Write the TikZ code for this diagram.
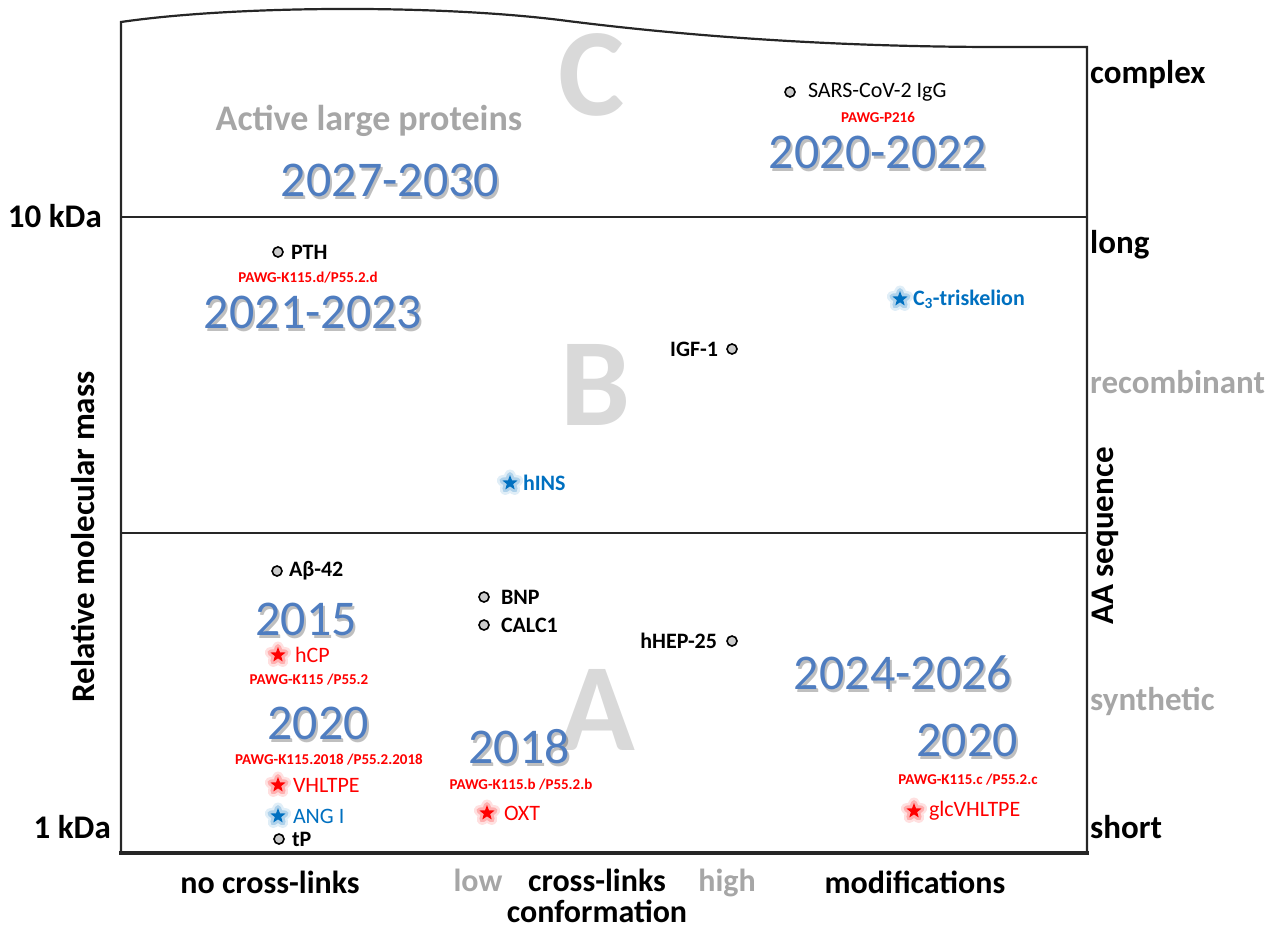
\documentclass[tikz,border=0pt]{standalone}
\usepackage{fontspec}
\setmainfont{Carlito}
\usepackage{tikz}
\usetikzlibrary{
    calc,
    positioning,
    shapes.geometric,
}
\definecolor{yearblue}{RGB}{79,125,192}
\definecolor{tagred}{RGB}{255,0,0}
\definecolor{tagblue}{RGB}{0,112,192}
\definecolor{softgray}{RGB}{166,166,166}
\definecolor{zonegray}{RGB}{217,217,217}
\newcommand{\fs}[1]{\fontsize{#1}{#1}\selectfont}
\newcommand{\yearlabel}[3]{%
    \node[yearshade, xshift=2pt, yshift=-3pt] at (#2) {#3};
    \node[year] (#1) at (#2) {#3};}
\tikzstyle{frame}=[line width=2.2pt, black!85]
\tikzstyle{zone}=[font=\fs{125}\bfseries, text=zonegray, inner sep=0pt]
\tikzstyle{year}=[font=\fs{50}, text=yearblue, inner sep=0pt]
\tikzstyle{yearshade}=[year, text=black, text opacity=0.25]
\tikzstyle{dot}=[circle, draw=black, fill=gray!40, line width=1.6pt, minimum size=10pt, inner sep=0pt]
\tikzstyle{starbase}=[star, star points=5, star point ratio=2.4, minimum size=16pt, inner sep=0pt, line join=round]
\tikzstyle{redstar}=[starbase, fill=red,
    preaction={draw=red, line width=11pt, draw opacity=0.12},
    preaction={draw=red, line width=6pt, draw opacity=0.22}]
\tikzstyle{bluestar}=[starbase, fill=tagblue,
    preaction={draw=tagblue, line width=11pt, draw opacity=0.12},
    preaction={draw=tagblue, line width=6pt, draw opacity=0.22}]
\tikzstyle{item}=[font=\fs{22}\bfseries, inner sep=0pt]
\tikzstyle{tag}=[font=\fs{15}\bfseries, text=tagred, inner sep=0pt]
\tikzstyle{redname}=[font=\fs{22}, text=tagred, inner sep=0pt]
\tikzstyle{bluename}=[font=\fs{22}\bfseries, text=tagblue, inner sep=0pt]
\tikzstyle{axis}=[font=\fs{33}\bfseries, inner sep=0pt]
\tikzstyle{softaxis}=[axis, text=softgray]

\begin{document}
\begin{tikzpicture}[x=1pt, y=-1pt]
    \useasboundingbox (0,0) rectangle (1271,935);
    \draw[frame] (121,853) -- (121,22) .. controls (230,6) and (430,4) .. (560,20)
        .. controls (700,38) and (850,47) .. (1000,47) -- (1087,47) -- (1087,853);
    \draw[frame, line width=3.5pt] (119,853) -- (1089,853);
    \draw[frame] (121,217) -- (1087,217);
    \draw[frame] (121,533) -- (1087,533);

    \node[zone] (zonec) at (592,75) {C};
    \node[zone] (zoneb) at (596,385) {B};
    \node[zone] (zonea) at (597,710) {A};

    \node[font=\fs{36}\bfseries, text=softgray] (active) at (369,121) {Active large proteins};
    \yearlabel{y2027}{390,180}{2027-2030}
    \node[dot] (sars) at (790,92) {};
    \node[item, font=\fs{22}, right=12pt of sars] (sarstext) {SARS-CoV-2 IgG};
    \node[tag] (p216) at (878,117) {PAWG-P216};
    \yearlabel{y2020b}{878,152}{2020-2022}

    \node[dot] (pth) at (278,252) {};
    \node[item, right=7pt of pth] (pthtext) {PTH};
    \node[tag] (k115d) at (308,278) {PAWG-K115.d/P55.2.d};
    \yearlabel{y2021}{313,312}{2021-2023}
    \node[bluestar] (c3) at (900,299) {};
    \node[bluename, right=8pt of c3] (c3text) {C\textsubscript{3}-triskelion};
    \node[dot] (igf) at (732,349) {};
    \node[item, left=8pt of igf] (igftext) {IGF-1};
    \node[bluestar] (hins) at (510,483) {};
    \node[bluename, right=8pt of hins] (hinstext) {hINS};

    \node[dot] (abeta) at (277,571) {};
    \node[item, right=6pt of abeta] (abetatext) {Aβ-42};
    \yearlabel{y2015}{306,619}{2015}
    \node[redstar] (hcp) at (278,655) {};
    \node[redname, right=12pt of hcp] (hcptext) {hCP};
    \node[tag] (k115) at (309,680) {PAWG-K115 /P55.2};
    \yearlabel{y2020a}{318,723}{2020}
    \node[tag] (k2018) at (329,760) {PAWG-K115.2018 /P55.2.2018};
    \node[redstar] (vhltpe) at (278,785) {};
    \node[redname, right=10pt of vhltpe] (vhltpetext) {VHLTPE};
    \node[bluestar] (ang) at (278,816) {};
    \node[bluename, font=\fs{22}, right=10pt of ang] (angtext) {ANG I};
    \node[dot] (tp) at (279,839) {};
    \node[item, right=7pt of tp] (tptext) {tP};

    \node[dot] (bnp) at (484,597) {};
    \node[item, right=11pt of bnp] (bnptext) {BNP};
    \node[dot] (calc) at (484,625) {};
    \node[item, right=11pt of calc] (calctext) {CALC1};
    \node[dot] (hhep) at (732,641) {};
    \node[item, left=9pt of hhep] (hheptext) {hHEP-25};
    \yearlabel{y2018}{519,747}{2018}
    \node[tag] (k115b) at (521,785) {PAWG-K115.b /P55.2.b};
    \node[redstar] (oxt) at (487,813) {};
    \node[redname, right=12pt of oxt] (oxttext) {OXT};
    \yearlabel{y2024}{903,673}{2024-2026}
    \yearlabel{y2020c}{967,740}{2020}
    \node[tag] (k115c) at (968,780) {PAWG-K115.c /P55.2.c};
    \node[redstar] (glc) at (914,811) {};
    \node[redname, right=10pt of glc] (glctext) {glcVHLTPE};

    \node[axis, anchor=base west] (complex) at (1090,83) {complex};
    \node[axis, anchor=base west] (long) at (1090,253) {long};
    \node[softaxis, anchor=base west] (recomb) at (1090,393) {recombinant};
    \node[axis, rotate=90] (aaseq) at (1105,536) {AA sequence};
    \node[softaxis, anchor=base west] (synth) at (1090,710) {synthetic};
    \node[axis, anchor=base west] (short) at (1090,838) {short};
    \node[axis, anchor=base east] (tenkda) at (102,227) {10 kDa};
    \node[axis, anchor=base east] (onekda) at (111,838) {1 kDa};
    \node[axis, rotate=90] (relmass) at (83,537) {Relative molecular mass};

    \node[axis, font=\fs{32}\bfseries, anchor=base] (nolinks) at (270,893) {no cross-links};
    \node[softaxis, font=\fs{32}\bfseries, anchor=base] (low) at (478,891) {low};
    \node[axis, font=\fs{32}\bfseries, anchor=base] (links) at (597,891) {cross-links};
    \node[softaxis, font=\fs{32}\bfseries, anchor=base] (high) at (727,891) {high};
    \node[axis, font=\fs{32}\bfseries, anchor=base] (modif) at (915,893) {modifications};
    \node[axis, font=\fs{32}\bfseries, anchor=base] (conform) at (597,922) {conformation};
\end{tikzpicture}
\end{document}
